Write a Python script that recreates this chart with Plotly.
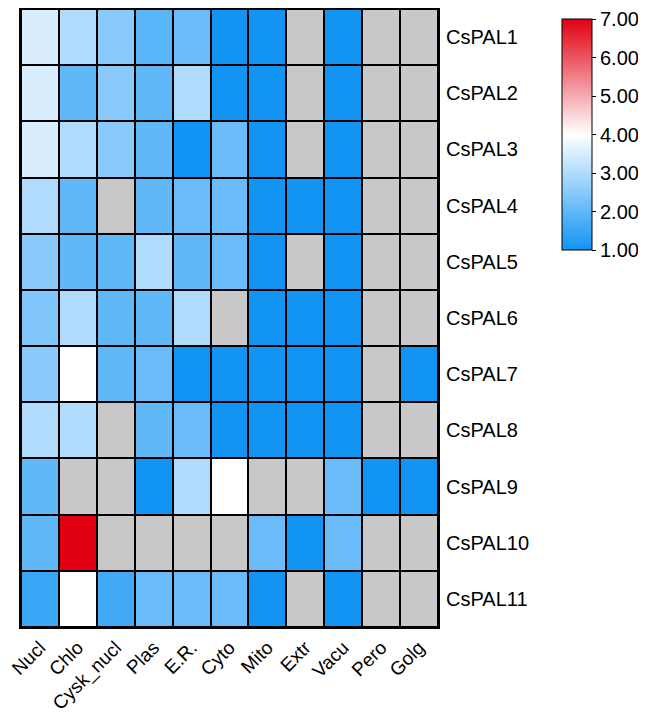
import numpy as np
import plotly.graph_objects as go

compartments = ["Nucl", "Chlo", "Cysk_nucl", "Plas", "E.R.", "Cyto", "Mito", "Extr", "Vacu", "Pero", "Golg"]
genes = ["CsPAL1", "CsPAL2", "CsPAL3", "CsPAL4", "CsPAL5", "CsPAL6",
         "CsPAL7", "CsPAL8", "CsPAL9", "CsPAL10", "CsPAL11"]
N = None
scores = [
    [3.5, 3.0, 2.5, 1.9, 2.1, 1.0, 1.0, N, 1.0, N, N],
    [3.5, 2.0, 2.5, 2.0, 3.0, 1.0, 1.0, N, 1.0, N, N],
    [3.5, 3.0, 2.5, 2.0, 1.0, 2.1, 1.0, N, 1.0, N, N],
    [3.0, 2.0, N, 2.0, 2.1, 2.1, 1.0, 1.0, 1.0, N, N],
    [2.5, 2.0, 2.0, 3.0, 2.0, 2.1, 1.0, N, 1.0, N, N],
    [2.4, 3.0, 2.0, 2.0, 3.0, N, 1.0, 1.0, 1.0, N, N],
    [2.5, 4.0, 2.0, 2.1, 1.0, 1.0, 1.0, 1.0, 1.0, N, 1.0],
    [3.0, 3.0, N, 2.0, 2.1, 1.0, 1.0, 1.0, 1.0, N, N],
    [2.0, N, N, 1.0, 3.0, 4.0, N, N, 2.1, 1.0, 1.0],
    [2.0, 7.0, N, N, N, N, 2.1, 1.0, 2.1, N, N],
    [1.5, 4.0, 1.6, 2.1, 2.1, 2.1, 1.0, N, 1.0, N, N],
]
cbar_ticks = [1, 2, 3, 4, 5, 6, 7]

z = np.array([[np.nan if v is None else v for v in row] for row in scores], dtype=float)
missing = np.where(np.isnan(z), 1.0, np.nan)

FONT = "Arial, Liberation Sans, sans-serif"

fig = go.Figure()
fig.add_trace(go.Heatmap(
    z=missing, x=compartments, y=genes,
    colorscale=[[0, "#c8c8c8"], [1, "#c8c8c8"]], showscale=False,
    xgap=2, ygap=2, hoverinfo="skip",
))
fig.add_trace(go.Heatmap(
    z=z, x=compartments, y=genes,
    zmin=1, zmax=7,
    colorscale=[[0, "rgb(18,148,245)"], [0.5, "rgb(255,255,255)"], [1, "rgb(225,0,18)"]],
    xgap=2, ygap=2,
    colorbar=dict(
        x=1.2974, xanchor="left", xref="paper", xpad=0,
        y=0.9838, yanchor="top", len=0.374, lenmode="fraction", ypad=0,
        thickness=30, outlinecolor="black", outlinewidth=1,
        tickvals=cbar_ticks, tickformat=".2f", ticks="outside",
        ticklen=4, tickcolor="black", ticklabeloverflow="allow",
        tickfont=dict(family=FONT, size=20, color="black"),
    ),
))

fig.update_layout(
    width=630, height=707,
    margin=dict(l=13, r=200, t=1, b=88, autoexpand=False),
    plot_bgcolor="black", paper_bgcolor="white",
    font=dict(family=FONT, size=20, color="black"),
)
fig.update_xaxes(
    tickangle=-45, showgrid=False, zeroline=False, ticks="", automargin=False,
    showline=True, mirror=True, linecolor="black", linewidth=2,
    tickfont=dict(family=FONT, size=19, color="black"),
)
fig.update_yaxes(
    autorange="reversed", side="right", showgrid=False, zeroline=False, ticks="",
    automargin=False,
    showline=True, mirror=True, linecolor="black", linewidth=2,
    ticklabelstandoff=2,
    tickfont=dict(family=FONT, size=20, color="black"),
)

fig.write_html("out.html")
